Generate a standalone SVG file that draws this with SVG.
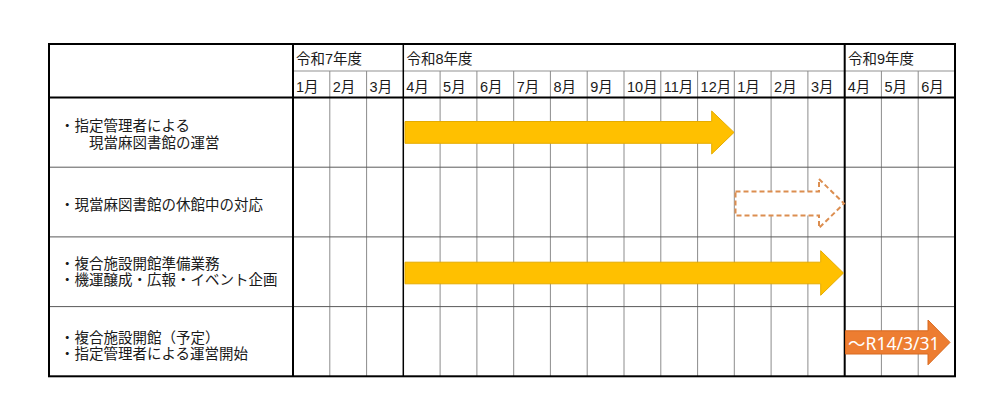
<svg xmlns="http://www.w3.org/2000/svg" width="1000" height="420" viewBox="0 0 1000 420">
<style>
text{font-family:"Liberation Sans","Noto Sans CJK JP",sans-serif;font-size:14.5px;fill:#1a1a1a}
.vl{stroke:#8c8c8c;stroke-width:1}
.hl{stroke:#5a5a5a;stroke-width:1}
.thk{stroke:#000;stroke-width:2}
.sub{stroke:#c8c8c8;stroke-width:2}
.bar{fill:#FFC000;stroke:#E5AC00;stroke-width:1}
.dash{fill:#fff;stroke:#DC8E50;stroke-width:2;stroke-dasharray:5 3}
.open{fill:#ED7D31;stroke:#D86A20;stroke-width:1}
.otext{font-family:"Noto Sans","Noto Sans CJK JP",sans-serif;font-size:17.5px;fill:#fff}
</style>
<rect width="1000" height="420" fill="#fff"/>
<g id="grid">
<line class="sub" x1="293" y1="71" x2="955" y2="71"/>
<g class="vl">
<line x1="329.8" y1="71" x2="329.8" y2="376.3"/>
<line x1="366.6" y1="71" x2="366.6" y2="376.3"/>
<line x1="440.1" y1="71" x2="440.1" y2="376.3"/>
<line x1="476.9" y1="71" x2="476.9" y2="376.3"/>
<line x1="513.7" y1="71" x2="513.7" y2="376.3"/>
<line x1="550.4" y1="71" x2="550.4" y2="376.3"/>
<line x1="587.2" y1="71" x2="587.2" y2="376.3"/>
<line x1="624" y1="71" x2="624" y2="376.3"/>
<line x1="660.8" y1="71" x2="660.8" y2="376.3"/>
<line x1="697.6" y1="71" x2="697.6" y2="376.3"/>
<line x1="734.3" y1="71" x2="734.3" y2="376.3"/>
<line x1="771.1" y1="71" x2="771.1" y2="376.3"/>
<line x1="807.9" y1="71" x2="807.9" y2="376.3"/>
<line x1="881.4" y1="71" x2="881.4" y2="376.3"/>
<line x1="918.2" y1="71" x2="918.2" y2="376.3"/>
</g>
<g class="hl">
<line x1="49" y1="167.2" x2="955" y2="167.2"/>
<line x1="49" y1="236.9" x2="955" y2="236.9"/>
<line x1="49" y1="306.6" x2="955" y2="306.6"/>
</g>
<line x1="403.3" y1="44" x2="403.3" y2="376.3" stroke="#000" stroke-width="1.5"/>
<line class="thk" x1="844.7" y1="44" x2="844.7" y2="376.3"/>
<line class="thk" x1="293" y1="44" x2="293" y2="376.3"/>
<line class="thk" x1="49" y1="97.5" x2="955" y2="97.5"/>
<rect class="thk" x="49" y="44" width="906" height="332.3" fill="none"/>
</g>
<g id="header">
<text x="296" y="64">令和7年度</text>
<text x="406.5" y="64">令和8年度</text>
<text x="848" y="64">令和9年度</text>
<g id="months">
<text x="296" y="91.5">1月</text>
<text x="332.8" y="91.5">2月</text>
<text x="369.6" y="91.5">3月</text>
<text x="406.3" y="91.5">4月</text>
<text x="443.1" y="91.5">5月</text>
<text x="479.9" y="91.5">6月</text>
<text x="516.7" y="91.5">7月</text>
<text x="553.4" y="91.5">8月</text>
<text x="590.2" y="91.5">9月</text>
<text x="627" y="91.5">10月</text>
<text x="663.8" y="91.5">11月</text>
<text x="700.6" y="91.5">12月</text>
<text x="737.3" y="91.5">1月</text>
<text x="774.1" y="91.5">2月</text>
<text x="810.9" y="91.5">3月</text>
<text x="847.7" y="91.5">4月</text>
<text x="884.4" y="91.5">5月</text>
<text x="921.2" y="91.5">6月</text>
</g>
</g>
<g id="row1">
<text x="60" y="131">・指定管理者による</text>
<text x="89" y="147.5">現當麻図書館の運営</text>
</g>
<g id="row2">
<text x="60" y="209.5">・現當麻図書館の休館中の対応</text>
</g>
<g id="row3">
<text x="60" y="268.5">・複合施設開館準備業務</text>
<text x="60" y="285">・機運醸成・広報・イベント企画</text>
</g>
<g id="row4">
<text x="60" y="342.5">・複合施設開館（予定）</text>
<text x="60" y="358.5">・指定管理者による運営開始</text>
</g>
<g id="connectors">
<polygon id="arrow1" class="bar" points="405,121.5 711.7,121.5 711.7,111 734,132.4 711.7,154 711.7,143.3 405,143.3"/>
<polygon id="arrow2" class="dash" points="735.5,191.5 819,191.5 819,179 844,203.5 819,228 819,215.5 735.5,215.5"/>
<polygon id="arrow3" class="bar" points="405,262.2 820.7,262.2 820.7,250.7 843.5,273 820.7,295.3 820.7,283.8 405,283.8"/>
<g id="arrow4">
<polygon class="open" points="845.5,330.8 928,330.8 928,320 950,342.4 928,364.8 928,354 845.5,354"/>
<text class="otext" x="848" y="349.7">～R14/3/31</text>
</g>
</g>
</svg>
